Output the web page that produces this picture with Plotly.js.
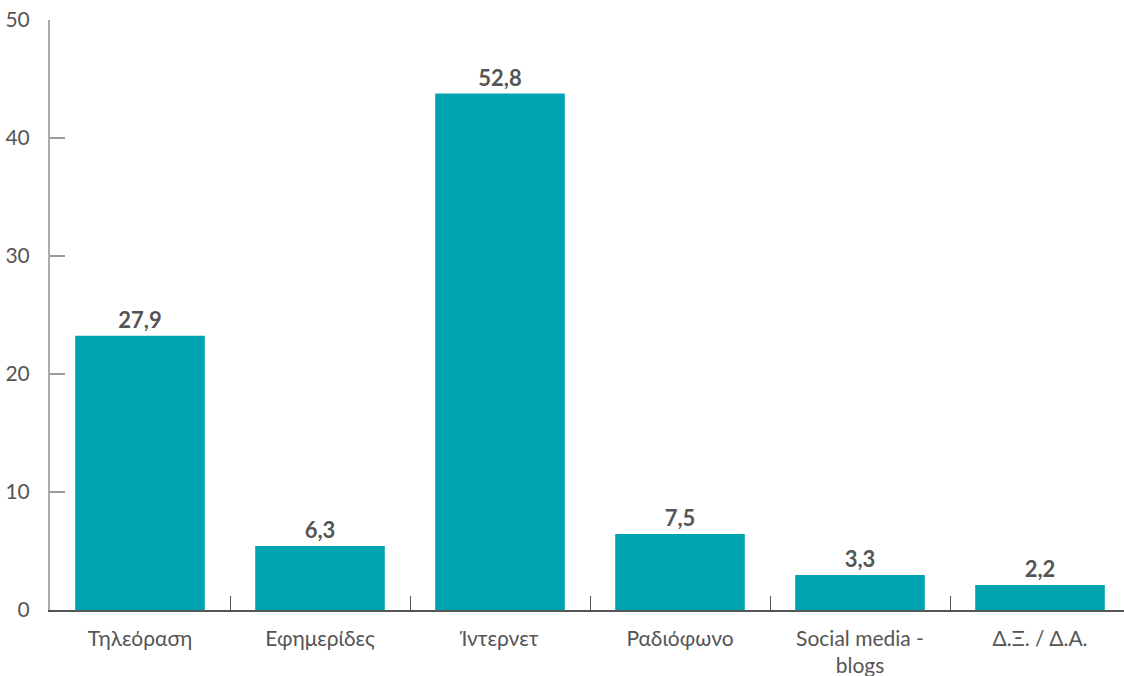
<!DOCTYPE html>
<html><head><meta charset="utf-8">
<script src="https://cdn.plot.ly/plotly-3.0.1.min.js"></script>
<style>html,body{margin:0;padding:0;background:#fff;overflow:hidden;width:1124px;height:676px}#c{width:1130px;height:676px}</style>
</head><body><div id="c"></div>
<script>
const categories = ["Τηλεόραση", "Εφημερίδες", "Ίντερνετ", "Ραδιόφωνο", "Social media -<br>blogs", "Δ.Ξ. / Δ.Α."];
const barHeights = [23.24, 5.43, 43.77, 6.45, 2.97, 2.12];
const valueLabels = ["27,9", "6,3", "52,8", "7,5", "3,3", "2,2"];
const yTicks = [0, 10, 20, 30, 40, 50];

Plotly.newPlot("c", [{
  type: "bar",
  x: categories,
  y: barHeights,
  text: valueLabels,
  textposition: "outside",
  texttemplate: "<b>%{text}</b>",
  textfont: {family: "Lato, sans-serif", size: 22, color: "#555555"},
  marker: {color: "#00a3b0"},
  cliponaxis: false,
  hoverinfo: "none"
}], {
  width: 1130, height: 676,
  margin: {l: 50, r: 0, t: 20, b: 66},
  paper_bgcolor: "#ffffff", plot_bgcolor: "#ffffff",
  bargap: 0.28,
  showlegend: false,
  font: {family: "Lato, sans-serif", color: "#555555"},
  xaxis: {
    type: "category",
    tickson: "boundaries",
    ticks: "inside", ticklen: 14, tickcolor: "#555555", tickwidth: 1,
    showline: true, linecolor: "#555555", linewidth: 1.5,
    showgrid: false, zeroline: false,
    tickfont: {family: "Lato, sans-serif", size: 21, color: "#555555"},
    ticklabelstandoff: 9
  },
  yaxis: {
    range: [0, 50],
    tickvals: yTicks,
    ticktext: yTicks.map(String),
    ticks: "inside", ticklen: 15, tickcolor: "#999999", tickwidth: 1.5,
    showline: true, linecolor: "#aaaaaa", linewidth: 2,
    showgrid: false, zeroline: false,
    tickfont: {family: "Lato, sans-serif", size: 21, color: "#555555"},
    ticklabelstandoff: 14
  }
}, {staticPlot: true});
</script>
</body></html>
